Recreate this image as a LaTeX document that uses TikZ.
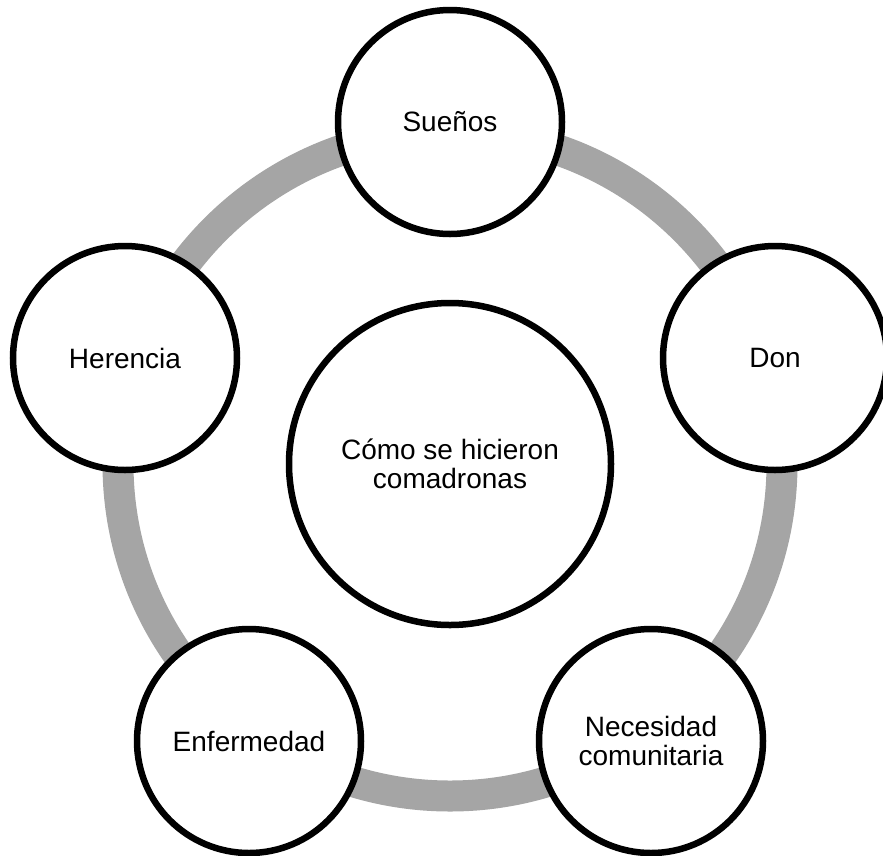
\documentclass[tikz,border=0pt]{standalone}
\usepackage{fontspec}
\setmainfont{Liberation Sans}
\definecolor{ringgray}{HTML}{A5A5A5}
\begin{document}
\begin{tikzpicture}[x=1pt,y=-1pt,
  ringline/.style={draw=ringgray,line width=31pt},
  bubble/.style={circle,draw=black,fill=white,line width=6.5pt,inner sep=0pt,
    minimum size=224pt,align=center,font=\fontsize{28}{29}\selectfont},
  hub/.style={bubble,minimum size=322pt}]
\useasboundingbox (0,0) rectangle (883,855);
\coordinate (o) at (450,464);
\draw[ringline] (o) circle[radius=332pt];
\node[hub] (c) at (o) {Cómo se hicieron\\comadronas};
\node[bubble] (s) at (450,122) {Sueños};
\node[bubble] (d) at (775,358) {Don};
\node[bubble] (n) at (651,741) {Necesidad\\comunitaria};
\node[bubble] (e) at (249,741) {Enfermedad};
\node[bubble] (h) at (125,358) {Herencia};
\end{tikzpicture}
\end{document}
